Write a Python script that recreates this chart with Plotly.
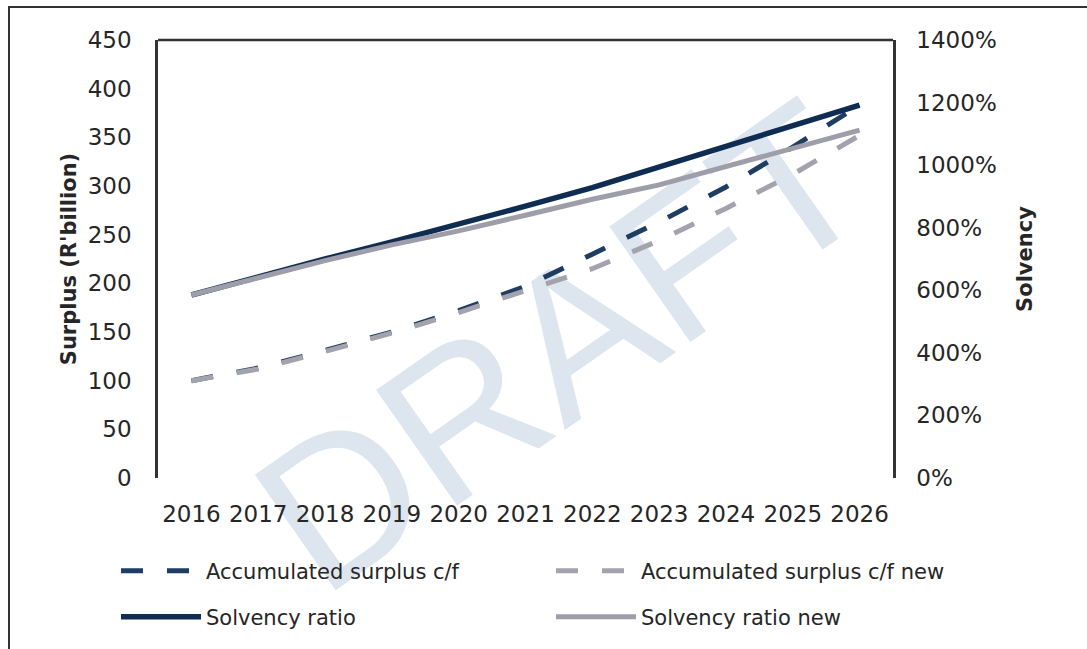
import plotly.graph_objects as go

years = ["2016", "2017", "2018", "2019", "2020", "2021", "2022", "2023", "2024", "2025", "2026"]
surplus = [100, 113, 131, 150, 172, 197, 230, 263, 299, 340, 383]
surplus_new = [100, 112, 130, 149, 170, 192, 215, 244, 277, 312, 352]
solvency = [5.85, 6.44, 7.00, 7.55, 8.10, 8.69, 9.28, 9.95, 10.61, 11.27, 11.92]
solvency_new = [5.85, 6.40, 6.95, 7.45, 7.90, 8.40, 8.91, 9.37, 9.96, 10.54, 11.12]

FONT = "DejaVu Sans"
TXT = "#262626"
DARK_DASH = "#1f3d63"
DARK = "#0f2d52"
GRAY_DASH = "#a4a3ad"
GRAY = "#9e9daa"

fig = go.Figure()
fig.add_trace(go.Scatter(x=years, y=surplus, name="Accumulated surplus c/f", mode="lines",
                         line=dict(color=DARK_DASH, width=5, dash="22px,24px"), legend="legend"))
fig.add_trace(go.Scatter(x=years, y=surplus_new, name="Accumulated surplus c/f new", mode="lines",
                         line=dict(color=GRAY_DASH, width=5, dash="22px,24px"), legend="legend"))
fig.add_trace(go.Scatter(x=years, y=solvency, name="Solvency ratio", mode="lines", yaxis="y2",
                         line=dict(color=DARK, width=5.5), legend="legend2"))
fig.add_trace(go.Scatter(x=years, y=solvency_new, name="Solvency ratio new", mode="lines", yaxis="y2",
                         line=dict(color=GRAY, width=5), legend="legend2"))

L, R, T, B = 158, 194, 40, 171
W, H = 1087, 649
pw, ph = W - L - R, H - T - B

def px2x(px):
    return (px - L) / pw

def py2y(py):
    return (H - B - py) / ph

legend_common = dict(orientation="h", xanchor="left", yanchor="middle", itemwidth=80,
                     entrywidth=340, font=dict(family=FONT, size=21, color=TXT),
                     bgcolor="rgba(0,0,0,0)", traceorder="normal")

fig.update_layout(
    width=W, height=H,
    margin=dict(l=L, r=R, t=T, b=B, autoexpand=False),
    paper_bgcolor="white", plot_bgcolor="rgba(0,0,0,0)",
    font=dict(family=FONT, color=TXT),
    showlegend=True,
    xaxis=dict(type="category", range=[-0.5, len(years) - 0.5], showgrid=False, showline=False, ticks="",
               tickangle=0, automargin=False,
               ticklabelstandoff=20, tickfont=dict(family=FONT, size=23, color=TXT), zeroline=False),
    yaxis=dict(range=[0, 450], dtick=50, showgrid=False, zeroline=False, showline=True, automargin=False,
               linecolor="#333333", linewidth=2.5, ticks="", ticklabelstandoff=19,
               tickfont=dict(family=FONT, size=23, color=TXT),
               title=dict(text="<b>Surplus (R'billion)</b>", font=dict(family=FONT, size=21, color=TXT), standoff=6)),
    yaxis2=dict(range=[0, 14], dtick=2, tickformat=".0%", overlaying="y", side="right", automargin=False,
                showgrid=False, zeroline=False, showline=True, linecolor="#333333", linewidth=2.5,
                ticks="", ticklabelstandoff=16, tickfont=dict(family=FONT, size=23, color=TXT),
                title=dict(text="<b>Solvency</b>", font=dict(family=FONT, size=21, color=TXT), standoff=22)),
    legend=dict(x=px2x(116), y=py2y(571), **legend_common),
    legend2=dict(x=px2x(116), y=py2y(617), **legend_common),
    shapes=[
        dict(type="line", xref="paper", yref="paper", x0=0, x1=1, y0=1, y1=1,
             line=dict(color="#333333", width=2.5)),
        dict(type="rect", xref="paper", yref="paper", x0=px2x(9), x1=px2x(1110), y0=py2y(680), y1=py2y(7),
             line=dict(color="#333333", width=2), fillcolor="rgba(0,0,0,0)"),
        dict(type="rect", xref="paper", yref="paper", layer="below", x0=px2x(200), x1=px2x(900),
             y0=py2y(600), y1=py2y(60), line=dict(width=0), fillcolor="rgba(0,0,0,0)",
             label=dict(text="DRAFT", textangle=-35, textposition="middle center",
                        font=dict(family="Liberation Sans", size=205, color="rgba(180,198,220,0.45)"))),
    ],
)

fig.write_html("out.html", config={"displayModeBar": False},
               post_script="document.body.style.margin='0';")
